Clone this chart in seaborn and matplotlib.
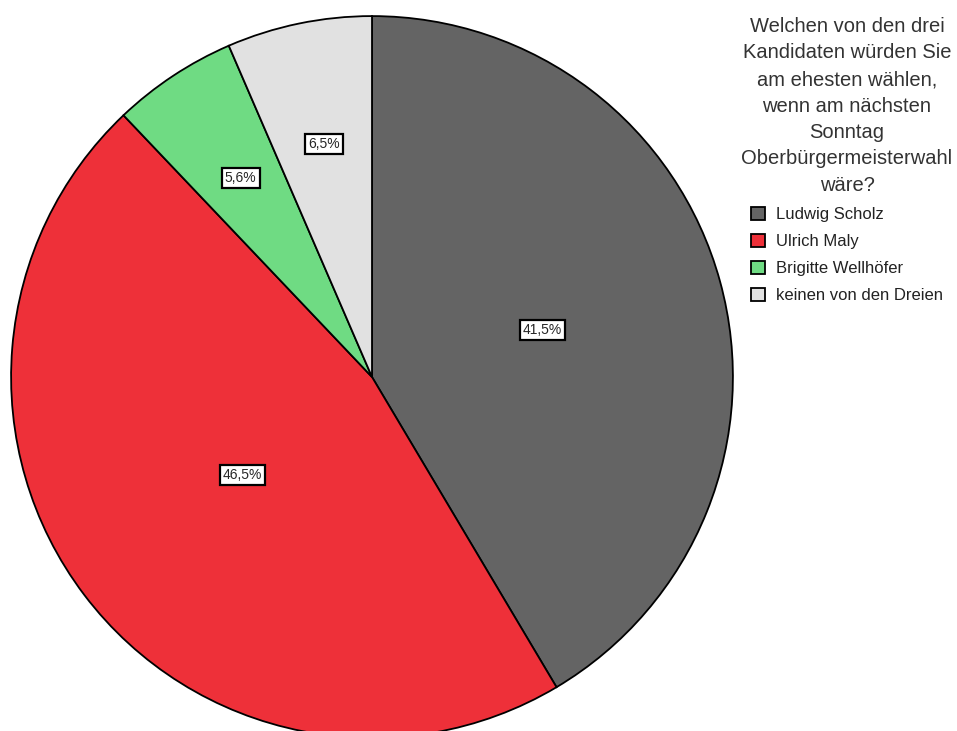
import matplotlib.pyplot as plt
import seaborn as sns
import numpy as np

# Data
candidates = ["Ludwig Scholz", "Ulrich Maly", "Brigitte Wellhöfer", "keinen von den Dreien"]
shares = [41.5, 46.5, 5.6, 6.5]
share_labels = ["41,5%", "46,5%", "5,6%", "6,5%"]
colors = ["#646464", "#ee3039", "#6fdb83", "#e1e1e1"]
legend_title = ("Welchen von den drei\nKandidaten würden Sie\nam ehesten wählen,\n"
                "wenn am nächsten\nSonntag\nOberbürgermeisterwahl\nwäre?")

# label distance from centre per slice (fraction of radius)
label_radius = [0.49, 0.45, 0.66, 0.66]

sns.set_style("white")
plt.rcParams["font.family"] = ["Liberation Sans", "DejaVu Sans"]

fig = plt.figure(figsize=(9.57, 7.31), dpi=100)
ax = fig.add_axes([10 / 957, (354 - 362) / 731, 724 / 957, 724 / 731])

wedges, _ = ax.pie(
    shares,
    colors=colors,
    startangle=90,
    counterclock=False,
    radius=1.0,
    wedgeprops=dict(edgecolor="black", linewidth=1.3),
)
ax.set_xlim(-1.003, 1.003)
ax.set_ylim(-1.003, 1.003)
ax.set_aspect("equal")
ax.axis("off")

for w, lab, r in zip(wedges, share_labels, label_radius):
    ang = np.deg2rad((w.theta1 + w.theta2) / 2)
    ax.text(r * np.cos(ang), r * np.sin(ang), lab, ha="center", va="center",
            fontsize=10,
            bbox=dict(boxstyle="square,pad=0.22", facecolor="white",
                      edgecolor="black", linewidth=1.6))

leg = fig.legend(
    wedges, candidates,
    title=legend_title,
    loc="upper center",
    bbox_to_anchor=(847 / 957, 1 - 17 / 731),
    frameon=False,
    fontsize=12,
    title_fontsize=14.5,
    handlelength=0.85,
    handleheight=0.85,
    handletextpad=0.65,
    labelspacing=0.7,
    borderaxespad=0,
    borderpad=0,
)
leg.get_title().set_multialignment("center")
leg.get_title().set_linespacing(1.5)
leg.get_title().set_color("#333333")
for t in leg.get_texts():
    t.set_color("#222222")

fig.savefig("out.png", dpi=100)
